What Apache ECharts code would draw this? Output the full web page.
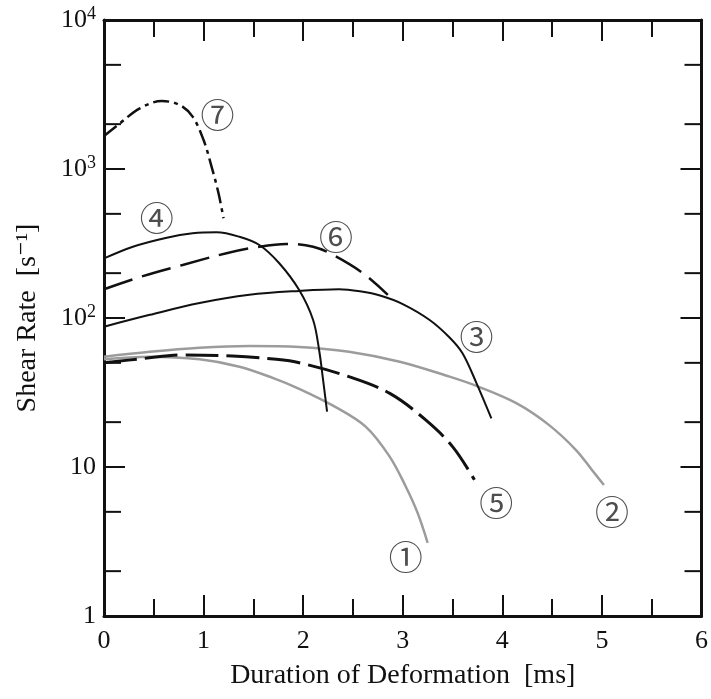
<!DOCTYPE html>
<html>
<head>
<meta charset="utf-8">
<title>Shear Rate vs Duration of Deformation</title>
<script src="https://cdn.jsdelivr.net/npm/echarts@6/dist/echarts.min.js"></script>
<style>
    html, body { margin: 0; padding: 0; background: #fff; }
    #chart { width: 711px; height: 699px; }
</style>
</head>
<body>
<div id="chart"></div>
<script>
// curves: x in ms, y in 1/s
const c1x = [0, 0.46, 0.96, 1.36, 1.7, 1.96, 2.3, 2.63, 2.87, 3.03, 3.15, 3.25];
const c1y = [52.8, 55, 52.8, 47.1, 39.5, 33.5, 25.8, 18.6, 11.7, 7.4, 4.9, 3.1];

const c2x = [0, 0.46, 0.96, 1.46, 1.96, 2.46, 2.97, 3.47, 3.74, 4.14, 4.47, 4.74, 4.9, 5.02];
const c2y = [55, 59.4, 63.2, 64.9, 64, 59.4, 50.9, 40.4, 35, 26.8, 19.1, 13, 9.55, 7.57];

const c3x = [0, 0.46, 0.96, 1.46, 1.96, 2.36, 2.57, 2.78, 3.0, 3.27, 3.47, 3.6, 3.74, 3.89];
const c3y = [87.4, 105, 126, 143, 152, 156, 151, 141, 124, 97, 74, 58, 36.6, 21.2];

const c4x = [0, 0.29, 0.63, 0.89, 1.13, 1.36, 1.56, 1.76, 1.96, 2.1, 2.16, 2.2, 2.24];
const c4y = [251, 301, 346, 370, 376, 351, 309, 233, 154, 97, 61, 38.4, 23.5];

const c5x = [0, 0.4, 0.79, 1.29, 1.73, 1.96, 2.46, 2.87, 3.23, 3.5, 3.72];
const c5y = [50, 53.5, 56.5, 55.6, 52.8, 50.1, 40.4, 31.2, 20.7, 13.7, 8.2];

const c6x = [0, 0.39, 0.79, 1.23, 1.56, 1.83, 2.1, 2.3, 2.6, 2.85];
const c6y = [156, 191, 227, 272, 301, 314, 301, 265, 200, 143];

const c7x = [0, 0.16, 0.36, 0.58, 0.76, 0.89, 1.0, 1.08, 1.15, 1.2];
const c7y = [1665, 2027, 2553, 2858, 2690, 2245, 1565, 1038, 687, 467];

// circled curve numbers and where they sit
const labelText = ['①', '②', '③', '④', '⑤', '⑥', '⑦'];
const labelX = [3.03, 5.1, 3.74, 0.53, 3.94, 2.33, 1.14];
const labelY = [2.49, 5.0, 74.5, 469, 5.73, 350, 2300];

// log axis minor ticks (2 and 5 of every decade)
const minorY = [2, 5, 20, 50, 200, 500, 2000, 5000];

function pairs(xs, ys) {
    return xs.map((x, i) => [x, ys[i]]);
}

document.addEventListener('DOMContentLoaded', function () {
    var myChart = echarts.init(document.getElementById('chart'));
    var serif = '"Liberation Serif", "DejaVu Serif", serif';
    var gray = '#9c9c9c';
    var ink = '#111';

    var xBase = {
        type: 'value',
        min: 0,
        max: 6,
        interval: 1,
        axisLine: { show: true, onZero: false, lineStyle: { color: ink, width: 3 } },
        axisTick: { show: true, inside: true, length: 21, lineStyle: { color: ink, width: 2 } },
        minorTick: { show: true, splitNumber: 2, length: 17, lineStyle: { color: ink, width: 2 } },
        splitLine: { show: false }
    };
    var yBase = {
        type: 'log',
        logBase: 10,
        min: 1,
        max: 10000,
        axisLine: { show: true, onZero: false, lineStyle: { color: ink, width: 3 } },
        axisTick: { show: true, inside: true, length: 21, lineStyle: { color: ink, width: 2 } },
        splitLine: { show: false }
    };

    function line(name, xs, ys, color, width, type) {
        return {
            name: name,
            type: 'line',
            data: pairs(xs, ys),
            smooth: 0.35,
            showSymbol: false,
            symbol: 'none',
            silent: true,
            lineStyle: { color: color, width: width, type: type }
        };
    }

    var option = {
        animation: false,
        backgroundColor: '#fff',
        grid: { left: 104, top: 20, right: 8, bottom: 83, containLabel: false },
        xAxis: [
            Object.assign({}, xBase, {
                position: 'bottom',
                name: 'Duration of Deformation  [ms]',
                nameLocation: 'middle',
                nameGap: 46,
                nameTextStyle: { fontFamily: serif, fontSize: 28, color: ink },
                axisLabel: { margin: 12, fontFamily: serif, fontSize: 26, color: ink }
            }),
            Object.assign({}, xBase, { position: 'top', axisLabel: { show: false } })
        ],
        yAxis: [
            Object.assign({}, yBase, {
                position: 'left',
                name: 'Shear Rate  [s⁻¹]',
                nameLocation: 'middle',
                nameGap: 62,
                nameTextStyle: { fontFamily: serif, fontSize: 28, color: ink },
                axisLabel: {
                    margin: 8,
                    color: ink,
                    formatter: function (v) {
                        var p = Math.round(Math.log10(v));
                        if (p === 0) return '{b|1}';
                        if (p === 1) return '{b|10}';
                        return '{b|10}{s|' + p + '}';
                    },
                    rich: {
                        b: { fontFamily: serif, fontSize: 26, lineHeight: 30, color: ink },
                        s: { fontFamily: serif, fontSize: 18, lineHeight: 18, verticalAlign: 'top', color: ink }
                    }
                }
            }),
            Object.assign({}, yBase, { position: 'right', axisLabel: { show: false } })
        ],
        series: [
            line('1', c1x, c1y, gray, 2.5, 'solid'),
            line('2', c2x, c2y, gray, 2.5, 'solid'),
            line('3', c3x, c3y, ink, 2, 'solid'),
            line('4', c4x, c4y, ink, 2, 'solid'),
            line('5', c5x, c5y, ink, 3, [33, 8]),
            line('6', c6x, c6y, ink, 2.5, [30, 10]),
            line('7', c7x, c7y, ink, 2.5, [16, 5, 4, 5]),
            {
                type: 'custom',
                silent: true,
                clip: false,
                data: minorY.map(v => [0, v]),
                renderItem: function (params, api) {
                    var v = api.value(1);
                    var l = api.coord([0, v]);
                    var r = api.coord([6, v]);
                    var st = { stroke: ink, lineWidth: 2 };
                    return {
                        type: 'group',
                        children: [
                            { type: 'line', shape: { x1: l[0], y1: l[1], x2: l[0] + 17, y2: l[1] }, style: st },
                            { type: 'line', shape: { x1: r[0] - 17, y1: r[1], x2: r[0], y2: r[1] }, style: st }
                        ]
                    };
                }
            },
            {
                type: 'scatter',
                silent: true,
                symbolSize: 0,
                data: labelText.map((t, i) => [labelX[i], labelY[i], t]),
                label: {
                    show: true,
                    position: 'inside',
                    formatter: function (p) { return p.data[2]; },
                    fontFamily: '"Noto Sans CJK JP", "Noto Sans CJK SC", sans-serif',
                    fontSize: 34,
                    color: '#222'
                }
            }
        ]
    };

    option && myChart.setOption(option);

    window.addEventListener('resize', function () {
        myChart.resize();
    });
});
</script>
</body>
</html>
